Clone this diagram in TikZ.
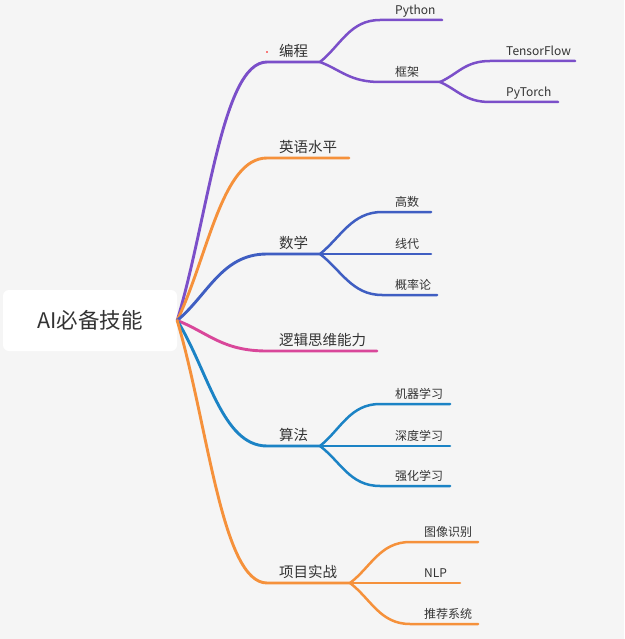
\documentclass[tikz,border=0pt]{standalone}
\usepackage{fontspec}
\setmainfont{Noto Sans CJK SC}
\definecolor{bg}{HTML}{F5F5F5}
\definecolor{txt}{HTML}{333333}
\definecolor{cPurple}{HTML}{7B4FC9}
\definecolor{cOrange}{HTML}{F5913B}
\definecolor{cBlue}{HTML}{3F5EC2}
\definecolor{cPink}{HTML}{D9479A}
\definecolor{cTeal}{HTML}{1B83C5}
\tikzset{
  lvlone/.style={font=\fontsize{14.5}{16}\selectfont, text=txt, anchor=base west, inner sep=0pt, yshift=-1.5pt},
  lvltwo/.style={font=\fontsize{12}{14}\selectfont, text=txt, anchor=base west, inner sep=0pt, yshift=-1.5pt},
  brone/.style={line width=2.9pt, line cap=round},
  brtwo/.style={line width=2.5pt, line cap=round},
  rootbox/.style={fill=white, rounded corners=6pt, minimum width=174pt, minimum height=61pt, inner sep=0pt, text=txt, font=\fontsize{21.5}{24}\selectfont}
}
\begin{document}
\begin{tikzpicture}[x=1pt,y=-1pt]
\useasboundingbox (0,0) rectangle (624,639);
\fill[bg] (0,0) rectangle (624,639);

\node[rootbox] (root) at (90,320.5) {AI必备技能};

% ---------- 编程 ----------
\coordinate (b-bc) at (267,62);
\coordinate (e-bc) at (320,62);
\draw[brone,cPurple] (root.east) .. controls +(31,-103) and +(-45,0) .. (b-bc) -- (e-bc);
\node[lvlone] (t-bc) at (279,55) {编程};
\fill[red] (267,52) circle (0.9pt);

\coordinate (b-py) at (380,20);
\coordinate (e-py) at (442,20);
\draw[brtwo,cPurple] (e-bc) .. controls +(21,-17) and +(-30,0) .. (b-py) -- (e-py);
\node[lvltwo] (t-py) at (395,13) {Python};

\coordinate (b-kj) at (380,82);
\coordinate (e-kj) at (440,82);
\draw[brtwo,cPurple] (e-bc) .. controls +(21,8) and +(-30,0) .. (b-kj) -- (e-kj);
\node[lvltwo] (t-kj) at (395,75) {框架};

\coordinate (b-tf) at (490,61);
\coordinate (e-tf) at (575,61);
\draw[brtwo,cPurple] (e-kj) .. controls +(18,-8) and +(-25,0) .. (b-tf) -- (e-tf);
\node[lvltwo] (t-tf) at (506,54) {TensorFlow};

\coordinate (b-pt) at (490,102);
\coordinate (e-pt) at (558,102);
\draw[brtwo,cPurple] (e-kj) .. controls +(18,8) and +(-25,0) .. (b-pt) -- (e-pt);
\node[lvltwo] (t-pt) at (506,95) {PyTorch};

% ---------- 英语水平 ----------
\coordinate (b-yy) at (267,158);
\coordinate (e-yy) at (349,158);
\draw[brone,cOrange] (root.east) .. controls +(31,-65) and +(-45,0) .. (b-yy) -- (e-yy);
\node[lvlone] (t-yy) at (279,151) {英语水平};

% ---------- 数学 ----------
\coordinate (b-sx) at (267,254);
\coordinate (e-sx) at (320,254);
\draw[brone,cBlue] (root.east) .. controls +(31,-26) and +(-45,0) .. (b-sx) -- (e-sx);
\node[lvlone] (t-sx) at (279,247) {数学};

\coordinate (b-gs) at (382,212);
\coordinate (e-gs) at (431,212);
\draw[brtwo,cBlue] (e-sx) .. controls +(21,-17) and +(-30,0) .. (b-gs) -- (e-gs);
\node[lvltwo] (t-gs) at (395,205) {高数};

\coordinate (e-xd) at (431,254);
\draw[brtwo,cBlue] (e-sx) -- (e-xd);
\node[lvltwo] (t-xd) at (395,247) {线代};

\coordinate (b-gl) at (382,295);
\coordinate (e-gl) at (437,295);
\draw[brtwo,cBlue] (e-sx) .. controls +(21,16) and +(-30,0) .. (b-gl) -- (e-gl);
\node[lvltwo] (t-gl) at (395,288) {概率论};

% ---------- 逻辑思维能力 ----------
\coordinate (b-lj) at (267,351);
\coordinate (e-lj) at (377,351);
\draw[brone,cPink] (root.east) .. controls +(31,12) and +(-45,0) .. (b-lj) -- (e-lj);
\node[lvlone] (t-lj) at (279,344) {逻辑思维能力};

% ---------- 算法 ----------
\coordinate (b-sf) at (267,446);
\coordinate (e-sf) at (320,446);
\draw[brone,cTeal] (root.east) .. controls +(31,50) and +(-45,0) .. (b-sf) -- (e-sf);
\node[lvlone] (t-sf) at (279,439) {算法};

\coordinate (b-jq) at (380,404);
\coordinate (e-jq) at (450,404);
\draw[brtwo,cTeal] (e-sf) .. controls +(21,-17) and +(-30,0) .. (b-jq) -- (e-jq);
\node[lvltwo] (t-jq) at (395,397) {机器学习};

\coordinate (e-sd) at (450,446);
\draw[brtwo,cTeal] (e-sf) -- (e-sd);
\node[lvltwo] (t-sd) at (395,439) {深度学习};

\coordinate (b-qh) at (380,486);
\coordinate (e-qh) at (450,486);
\draw[brtwo,cTeal] (e-sf) .. controls +(21,16) and +(-30,0) .. (b-qh) -- (e-qh);
\node[lvltwo] (t-qh) at (395,479) {强化学习};

% ---------- 项目实战 ----------
\coordinate (b-xm) at (267,583);
\coordinate (e-xm) at (350,583);
\draw[brone,cOrange] (root.east) .. controls +(31,105) and +(-45,0) .. (b-xm) -- (e-xm);
\node[lvlone] (t-xm) at (279,576) {项目实战};

\coordinate (b-tx) at (410,542);
\coordinate (e-tx) at (478,542);
\draw[brtwo,cOrange] (e-xm) .. controls +(21,-16) and +(-30,0) .. (b-tx) -- (e-tx);
\node[lvltwo] (t-tx) at (424,535) {图像识别};

\coordinate (e-nlp) at (460,583);
\draw[brtwo,cOrange] (e-xm) -- (e-nlp);
\node[lvltwo] (t-nlp) at (424,576) {NLP};

\coordinate (b-tj) at (410,624);
\coordinate (e-tj) at (478,624);
\draw[brtwo,cOrange] (e-xm) .. controls +(21,16) and +(-30,0) .. (b-tj) -- (e-tj);
\node[lvltwo] (t-tj) at (424,617) {推荐系统};
\end{tikzpicture}
\end{document}
